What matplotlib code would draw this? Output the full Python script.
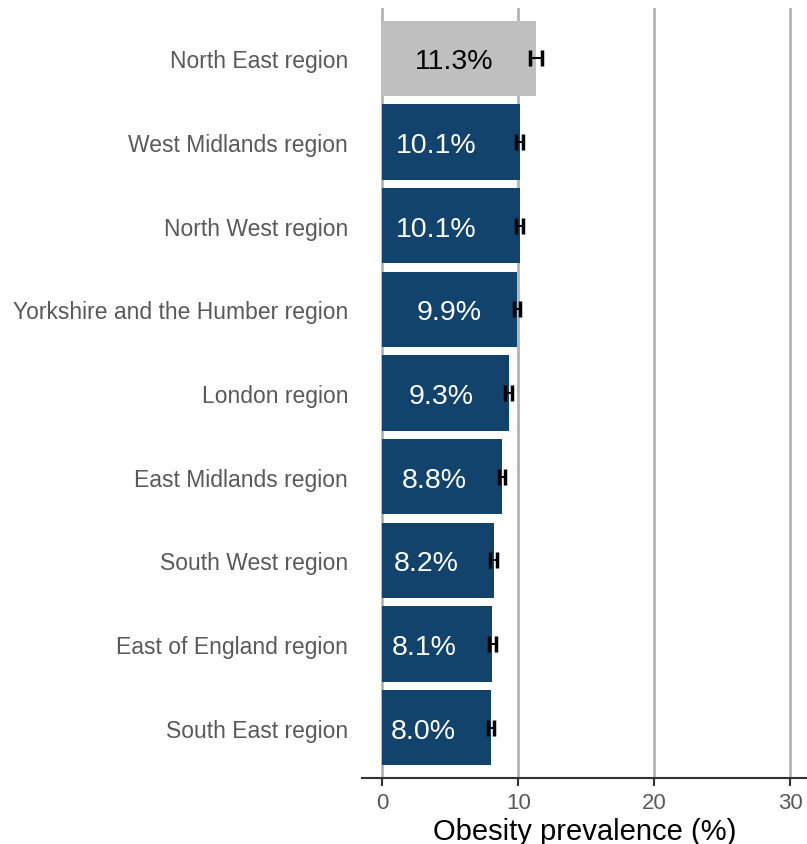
import matplotlib.pyplot as plt
import matplotlib.transforms as mtransforms
import numpy as np

plt.rcParams['font.family'] = ['Liberation Sans', 'DejaVu Sans']

# regiones, de abajo hacia arriba
regions = ["South East region", "East of England region", "South West region",
           "East Midlands region", "London region", "Yorkshire and the Humber region",
           "North West region", "West Midlands region", "North East region"]
prevalence = [8.0, 8.1, 8.2, 8.8, 9.3, 9.9, 10.1, 10.1, 11.3]
ci_low = [7.75, 7.85, 7.95, 8.55, 9.05, 9.65, 9.85, 9.85, 10.85]
ci_high = [8.25, 8.35, 8.45, 9.05, 9.55, 10.15, 10.35, 10.35, 11.75]
highlight = "North East region"

navy = "#12436D"
grey = "#BFBFBF"

fig = plt.figure(figsize=(8.07, 8.45), dpi=100)
ax = fig.add_axes([362 / 807, 66 / 845, 445 / 807, 770 / 845])

y = np.arange(len(regions))
colores = [grey if r == highlight else navy for r in regions]
ax.barh(y, prevalence, height=0.9, color=colores, zorder=2)

err = [np.array(prevalence) - np.array(ci_low), np.array(ci_high) - np.array(prevalence)]
ax.errorbar(prevalence, y, xerr=err, fmt="none", ecolor="black",
            elinewidth=1.5, capsize=6, capthick=2.5, zorder=3)

# etiquetas de valor dentro de las barras
textos = []
for i, v in enumerate(prevalence):
    c = "black" if regions[i] == highlight else "white"
    t = ax.text(v, y[i], f"{v:.1f}%", ha="center", va="center_baseline",
                fontsize=20.5, color=c, zorder=4)
    textos.append(t)

fig.canvas.draw()
for t in textos:
    w = t.get_window_extent().width + 3
    t.set_transform(mtransforms.offset_copy(ax.transData, fig=fig,
                                            x=-w * 72 / fig.dpi, y=0, units="points"))

ax.set_xlim(-1.5, 31.25)
ax.set_ylim(-0.6, 8.6)
ax.set_xticks([0, 10, 20, 30])
ax.set_yticks(y)
ax.set_yticklabels(regions)
ax.tick_params(axis="y", length=0, labelsize=16.5, labelcolor="#595959", pad=10)
ax.tick_params(axis="x", length=6, width=1.5, color="#333333", labelsize=16,
               labelcolor="#595959", pad=4)
ax.grid(axis="x", color="#B3B3B3", linewidth=2, zorder=0)
for s in ["top", "right", "left"]:
    ax.spines[s].set_visible(False)
ax.spines["bottom"].set_color("#333333")
ax.spines["bottom"].set_linewidth(1.5)
ax.set_xlabel("Obesity prevalence (%)", fontsize=21, color="black", labelpad=3)

plt.savefig("out.png", dpi=100)
